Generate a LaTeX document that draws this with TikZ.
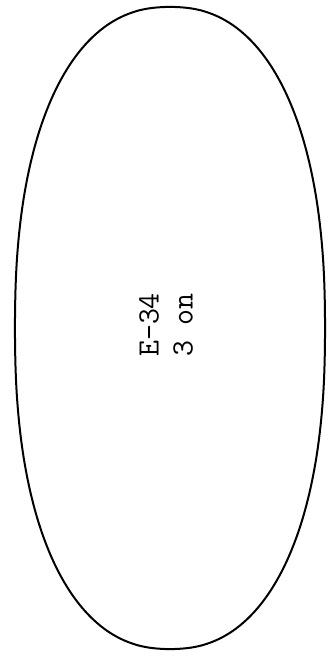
\documentclass[tikz,border=0pt]{standalone}
\usetikzlibrary{positioning}
\begin{document}
\begin{tikzpicture}[x=1pt,y=1pt]
  \useasboundingbox (0,0) rectangle (336,656);
  % outer outline, a slightly squared ellipse
  \draw[line width=2pt, line join=round]
    plot[domain=1:361, samples=181, smooth cycle]
    ({170+155*sign(cos(\x))*abs(cos(\x))^0.87},
     {328+321*sign(sin(\x))*abs(sin(\x))^0.87});
  % part label, set on its side
  \node[rotate=90, align=left, inner sep=0pt,
    font=\ttfamily\fontsize{31}{34}\selectfont]
    (tag) at (166,331) {E-34\\3 on};
\end{tikzpicture}
\end{document}
